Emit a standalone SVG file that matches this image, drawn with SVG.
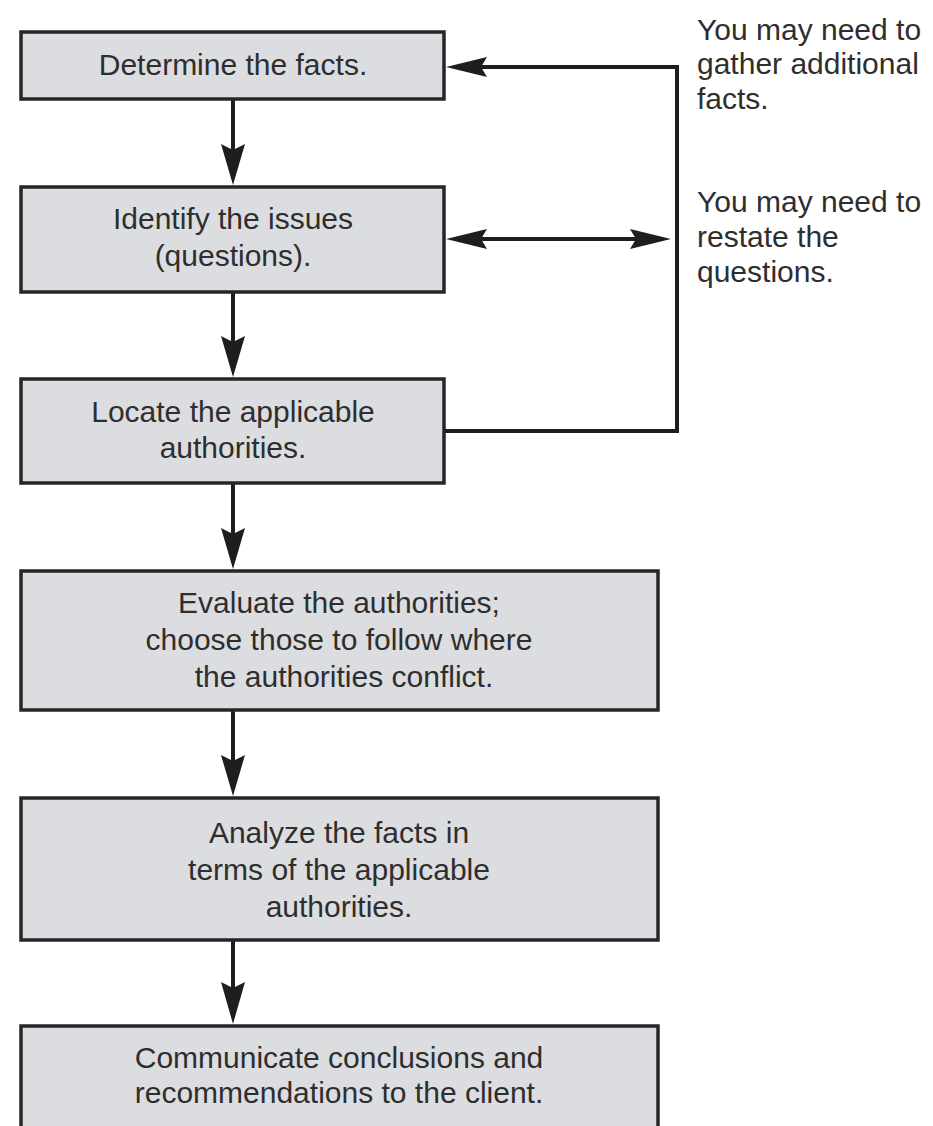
<svg xmlns="http://www.w3.org/2000/svg" width="933" height="1126" viewBox="0 0 933 1126">
<style>
.box{fill:#dcdde0;stroke:#262626;stroke-width:3.5}
.t{font-family:"Liberation Sans",Arial,sans-serif;font-size:30px;fill:#2e2e2e;text-anchor:middle}
.n{font-family:"Liberation Sans",Arial,sans-serif;font-size:30px;fill:#2e2e2e}
.ln{fill:none;stroke:#1e1e1e;stroke-width:4}
.hd{fill:#1e1e1e}
</style>
<rect width="933" height="1126" fill="#ffffff"/>
<g id="connectors">
<line class="ln" x1="233" y1="99" x2="233" y2="160"/>
<polygon class="hd" points="221,144 233,150 245,144 233,185"/>
<line class="ln" x1="233" y1="292" x2="233" y2="350"/>
<polygon class="hd" points="221,336 233,342 245,336 233,377"/>
<line class="ln" x1="233" y1="483" x2="233" y2="545"/>
<polygon class="hd" points="221,528 233,534 245,528 233,569"/>
<line class="ln" x1="233" y1="710" x2="233" y2="770"/>
<polygon class="hd" points="221,755 233,761 245,755 233,796"/>
<line class="ln" x1="233" y1="940" x2="233" y2="995"/>
<polygon class="hd" points="221,982 233,988 245,982 233,1024"/>
<polyline class="ln" points="444,431 677,431 677,67 470,67"/>
<polygon class="hd" points="446,67 487,57 481,67 487,77"/>
<line class="ln" x1="470" y1="239" x2="650" y2="239"/>
<polygon class="hd" points="446,239 487,229 481,239 487,249"/>
<polygon class="hd" points="671,239 630,229 636,239 630,249"/>
</g>
<g id="node1">
<rect class="box" x="21" y="32" width="423" height="67"/>
<text class="t" x="233" y="75">Determine the facts.</text>
</g>
<g id="node2">
<rect class="box" x="21" y="187" width="423" height="105"/>
<text class="t" x="233" y="229">Identify the issues</text>
<text class="t" x="233" y="266">(questions).</text>
</g>
<g id="node3">
<rect class="box" x="21" y="379" width="423" height="104"/>
<text class="t" x="233" y="422">Locate the applicable</text>
<text class="t" x="233" y="458">authorities.</text>
</g>
<g id="node4">
<rect class="box" x="21" y="571" width="637" height="139"/>
<text class="t" x="339" y="613">Evaluate the authorities;</text>
<text class="t" x="339" y="650">choose those to follow where</text>
<text class="t" x="344" y="687">the authorities conflict.</text>
</g>
<g id="node5">
<rect class="box" x="21" y="798" width="637" height="142"/>
<text class="t" x="339" y="843">Analyze the facts in</text>
<text class="t" x="339" y="880">terms of the applicable</text>
<text class="t" x="339" y="917">authorities.</text>
</g>
<g id="node6">
<rect class="box" x="21" y="1026" width="637" height="104"/>
<text class="t" x="339" y="1068">Communicate conclusions and</text>
<text class="t" x="339" y="1103">recommendations to the client.</text>
</g>
<g id="note1">
<text class="n" x="697" y="40">You may need to</text>
<text class="n" x="697" y="74">gather additional</text>
<text class="n" x="697" y="109">facts.</text>
</g>
<g id="note2">
<text class="n" x="697" y="212">You may need to</text>
<text class="n" x="697" y="247">restate the</text>
<text class="n" x="697" y="282">questions.</text>
</g>
</svg>
